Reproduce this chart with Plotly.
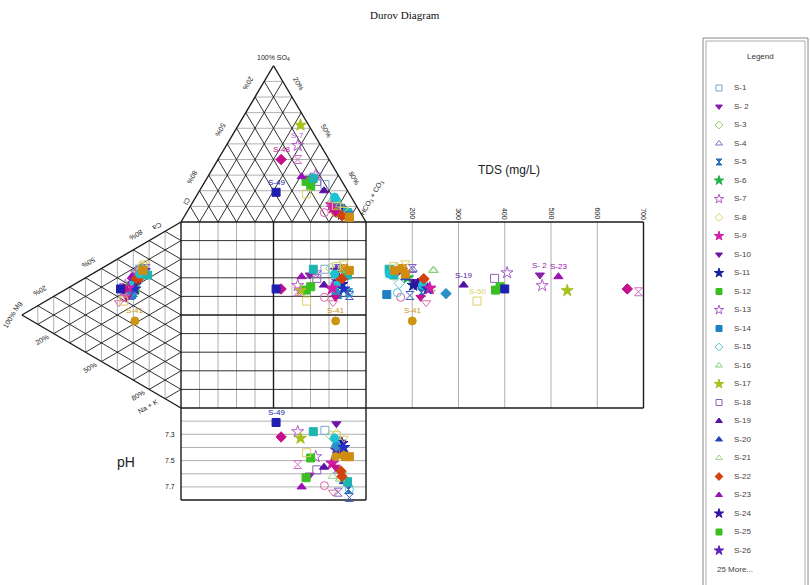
import plotly.graph_objects as go

# ---------------------------------------------------------------- data
SAMPLES = ["S-1", "S- 2", "S-3", "S-4", "S-5", "S-6", "S-7", "S-8", "S-9", "S-10",
           "S-11", "S-12", "S-13", "S-14", "S-15", "S-16", "S-17", "S-18", "S-19", "S-20",
           "S-21", "S-22", "S-23", "S-24", "S-25", "S-26", "S-27", "S-28", "S-29", "S-30",
           "S-31", "S-32", "S-33", "S-34", "S-35", "S-36", "S-37", "S-38", "S-39", "S-40",
           "S-41", "S-42", "S-43", "S-44", "S-45", "S-46", "S-47", "S-48", "S-49", "S-50",
           "S-51"]

# anions, % meq (Cl = remainder)
SO4 = [24, 28, 12, 10, 5, 10, 49, 9, 11, 12,
       7, 26, 30, 8, 15, 5, 62, 26, 20, 9,
       14, 6, 29, 5, 23, 9, 5, 28, 14, 6,
       9, 8, 4, 3, 6, 6, 6, 8, 4, 9,
       6, 11, 4, 10, 16, 6, 40, 40, 19, 18,
       3]
HCO3 = [65.8, 55.6, 75, 80, 88, 80, 38.6, 79.5, 76, 78,
        82.5, 54.6, 57.8, 80.5, 75.5, 84.5, 33.6, 60.4, 67.3, 83.5,
        75, 83.5, 50.7, 84.5, 58.6, 79.5, 85.5, 57.5, 77, 74.5,
        80.5, 78.2, 87, 89.5, 81, 85, 87, 84, 89, 77.5,
        80.6, 80.5, 85, 79, 75, 80.5, 43.1, 34.1, 41.9, 58.9,
        89.5]
# cations, % meq (Na + K = remainder)
MG = [26, 28, 24, 25, 30, 27, 35, 26, 32, 30,
      29, 29, 28, 31, 28, 30, 34, 29, 33, 27,
      26, 27, 31, 30, 32, 23, 24, 24, 31, 36,
      22, 39, 26, 33, 31, 29, 21, 23, 32, 33,
      29, 25, 28, 24, 26, 34, 35, 36, 38, 36,
      24]
CA = [61.6, 57.5, 63, 62, 47, 56.5, 48.3, 58, 48, 53,
      51.5, 48.9, 58.7, 45.5, 53, 49, 46.1, 55.2, 49.6, 56.5,
      61, 55.5, 55.1, 51.5, 49.2, 62.5, 63, 62.6, 50.5, 41.5,
      64, 37.1, 59, 45.5, 46, 49.5, 61, 66.5, 44.5, 48,
      32.3, 61.5, 55.5, 64, 59, 42.5, 45, 46, 45, 39.5,
      62]
TDS = [178, 476, 165, 201, 220, 190, 481, 160, 237, 205,
       202, 380, 405, 145, 172, 240, 535, 378, 311, 185,
       247, 224, 516, 212, 390, 177, 179, 150, 222, 175,
       200, 230, 185, 168, 273, 233, 160, 185, 195, 238,
       200, 245, 225, 160, 150, 218, 689, 665, 400, 340,
       162]
PH = [7.27, 7.61, 7.31, 7.58, 7.72, 7.45, 7.28, 7.30, 7.52, 7.22,
      7.36, 7.63, 7.47, 7.42, 7.33, 7.58, 7.33, 7.57, 7.55, 7.66,
      7.62, 7.58, 7.70, 7.37, 7.48, 7.42, 7.45, 7.28, 7.38, 7.69,
      7.74, 7.74, 7.47, 7.72, 7.39, 7.40, 7.66, 7.33, 7.78, 7.52,
      7.47, 7.64, 7.62, 7.31, 7.33, 7.55, 7.53, 7.32, 7.21, 7.44,
      7.47]

TDS_TICKS = [200, 300, 400, 500, 600, 700]
PH_TICKS = [7.3, 7.5, 7.7]
PH_LINES = [7.2, 7.3, 7.4, 7.5, 7.6, 7.7]
EDGE_TICKS = [20, 50, 80]
LEGEND_COUNT = 26

# ---------------------------------------------------------------- styles
SYMBOLS = ["square-open", "triangle-down", "diamond-open", "triangle-up-open", "hourglass",
           "star", "star-open", "diamond-open", "star", "triangle-down",
           "star", "square", "star-open", "square", "diamond-open",
           "triangle-up-open", "star", "square-open", "triangle-up", "triangle-up",
           "triangle-up-open", "diamond", "triangle-up", "star", "square",
           "star", "square", "square", "circle", "circle-open",
           "hourglass-open", "triangle-down-open", "square", "circle-open", "diamond",
           "star", "square", "triangle-down-open", "hourglass-open", "star",
           "circle", "triangle-up-open", "diamond", "square-open", "circle",
           "triangle-down", "hourglass-open", "diamond", "square", "square-open",
           "square"]
COLORS = ["#7fa3d0", "#8a1fa8", "#8fd46a", "#8070c4", "#2a6fb8",
          "#22b04a", "#b45cc8", "#dccf6a", "#d21ea6", "#7212a6",
          "#14209e", "#38c020", "#a55ccc", "#1f80c4", "#5cc6da",
          "#82d07c", "#a8c01c", "#9060b4", "#5612a4", "#2244b4",
          "#9ed48c", "#d2420e", "#9a12b4", "#3412a4", "#38c020",
          "#5a22b8", "#d08c10", "#1fb4b0", "#1cc2d4", "#d85ea4",
          "#8262c4", "#d870a6", "#d08c10", "#4ec2d6", "#2a90c6",
          "#2430c4", "#1fb4b0", "#dccf6a", "#4060c4", "#d21ea6",
          "#cc9614", "#7cd06a", "#d2420e", "#dccf6a", "#1cc2d4",
          "#c4108e", "#d46ec4", "#c4108a", "#2020b0", "#dccf6a",
          "#d08c10"]

# ---------------------------------------------------------------- geometry
H_TOP = 84.0      # height of the anion triangle (square side = 100)
W_LEFT = 86.0     # depth of the cation triangle
PH_MIN, PH_MAX, PH_DEPTH = 7.1, 7.8, 49.5
TDS_MIN, TDS_MAX, TDS_WIDTH = 100, 700, 150

GRAY = "#b0b0b0"
BLACK = "#1a1a1a"
FONT = "Liberation Sans"


def top_pt(so4, hco3):
    return hco3 + so4 / 2.0, 100 + H_TOP * so4 / 100.0


def left_pt(mg, ca):
    return -W_LEFT * mg / 100.0, ca + mg / 2.0


def tds_x(t):
    return 100 + (t - TDS_MIN) / (TDS_MAX - TDS_MIN) * TDS_WIDTH


def ph_y(p):
    return -(p - PH_MIN) / (PH_MAX - PH_MIN) * PH_DEPTH


def marker_size(sym, base):
    return base + 1 if "star" in sym else base


fig = go.Figure()

grid = {"gray": ([], []), "black": ([], []), "frame": ([], [])}


def seg(kind, a, b):
    xs, ys = grid[kind]
    xs += [a[0], b[0], None]
    ys += [a[1], b[1], None]


for k in range(1, 10):
    f = 10 * k
    # anion triangle
    seg("gray", top_pt(f, 0), top_pt(f, 100 - f))
    seg("black", top_pt(0, f), top_pt(100 - f, f))
    seg("black", top_pt(0, 100 - f), top_pt(100 - f, 0))
    # cation triangle
    seg("gray", left_pt(f, 0), left_pt(f, 100 - f))
    seg("black", left_pt(0, f), left_pt(100 - f, f))
    seg("black", left_pt(0, 100 - f), left_pt(100 - f, 0))
    # central square
    if f != 50:
        seg("gray", (f, 0), (f, 100))
        seg("black", (0, f), (100, f))

seg("frame", (50, 0), (50, 100))
seg("frame", (0, 50), (100, 50))

for t in TDS_TICKS[:-1]:
    seg("gray", (tds_x(t), 0), (tds_x(t), 100))
for p in PH_LINES:
    seg("gray", (0, ph_y(p)), (100, ph_y(p)))

# outlines
cl_c, hc_c, so_c = top_pt(0, 0), top_pt(0, 100), top_pt(100, 0)
ca_c, na_c, mg_c = left_pt(0, 100), left_pt(0, 0), left_pt(100, 0)
for a, b in [(cl_c, so_c), (so_c, hc_c), (ca_c, mg_c), (mg_c, na_c),
             ((0, 0), (0, 100)), ((0, 100), (tds_x(TDS_MAX), 100)),
             ((tds_x(TDS_MAX), 100), (tds_x(TDS_MAX), 0)), ((tds_x(TDS_MAX), 0), (0, 0)),
             ((100, 0), (100, 100)),
             ((0, 0), (0, ph_y(PH_MAX))), ((0, ph_y(PH_MAX)), (100, ph_y(PH_MAX))),
             ((100, ph_y(PH_MAX)), (100, 0))]:
    seg("frame", a, b)

for kind, color, width in [("gray", GRAY, 1), ("black", BLACK, 0.9), ("frame", BLACK, 1.4)]:
    xs, ys = grid[kind]
    fig.add_trace(go.Scatter(x=xs, y=ys, mode="lines", line=dict(color=color, width=width),
                             hoverinfo="skip"))

# ---------------------------------------------------------------- samples
pts = {}
for i, name in enumerate(SAMPLES):
    tx, ty = top_pt(SO4[i], HCO3[i])
    lx, ly = left_pt(MG[i], CA[i])
    xs = [tx, lx, tx, tds_x(TDS[i]), tx]
    ys = [ty, ly, ly, ly, ph_y(PH[i])]
    pts[name] = (xs, ys)
    fig.add_trace(go.Scatter(
        x=xs, y=ys, mode="markers", name=name,
        marker=dict(symbol=SYMBOLS[i], size=marker_size(SYMBOLS[i], 8), color=COLORS[i],
                    opacity=1, line=dict(color=COLORS[i], width=1)),
    ))

# ---------------------------------------------------------------- legend panel
n_leg = LEGEND_COUNT
fig.add_trace(go.Scatter(
    x=[16] * n_leg, y=list(range(n_leg)), mode="markers", xaxis="x2", yaxis="y2",
    marker=dict(symbol=SYMBOLS[:n_leg], color=COLORS[:n_leg], opacity=1,
                size=[marker_size(s, 6) for s in SYMBOLS[:n_leg]],
                line=dict(color=COLORS[:n_leg], width=1)),
    hoverinfo="skip"))
fig.add_trace(go.Scatter(
    x=[31] * n_leg, y=list(range(n_leg)), mode="text", xaxis="x2", yaxis="y2",
    text=SAMPLES[:n_leg], textposition="middle right",
    textfont=dict(size=8, color="#444", family=FONT), hoverinfo="skip"))

# point labels: (sample, panel index)
LABELS = [("S-7", 0), ("S-48", 0), ("S-49", 0), ("S-41", 1), ("S-41", 2),
          ("S-41", 3), ("S-19", 3), ("S-50", 3), ("S- 2", 3), ("S-23", 3), ("S-49", 4)]
annotations = []
for name, panel in LABELS:
    xs, ys = pts[name]
    annotations.append(dict(x=xs[panel], y=ys[panel], text=name, showarrow=False,
                            yshift=10, font=dict(size=8, color=COLORS[SAMPLES.index(name)],
                                                 family=FONT)))


# ---------------------------------------------------------------- axis text
def note(x, y, text, size=7, angle=0, **kw):
    d = dict(x=x, y=y, text=text, showarrow=False, textangle=angle,
             font=dict(size=size, color="#222", family=FONT))
    d.update(kw)
    annotations.append(d)


note(so_c[0], so_c[1] + 4, "100% SO<sub>4</sub>", size=7)
for v in EDGE_TICKS:
    x, y = top_pt(100 - v, 0)
    note(x - 3.7, y + 7.3, f"{v}%", angle=120)
    x, y = top_pt(100 - v, v)
    note(x + 3.3, y + 7.0, f"{v}%", angle=60)
    x, y = left_pt(100 - v, v)
    note(x - 7.1, y + 2.9, f"{v}%", angle=150)
    x, y = left_pt(100 - v, 0)
    note(x - 6.2, y - 3.2, f"{v}%", angle=-30)
note(cl_c[0] + 3, cl_c[1] + 11, "Cl", angle=120)
note(hc_c[0] + 3, hc_c[1] + 13, "HCO<sub>3</sub> + CO<sub>3</sub>", angle=-60)
note(ca_c[0] - 13, ca_c[1] - 2.7, "Ca", angle=150)
note(na_c[0] - 18, na_c[1] + 1, "Na + K", angle=-30)
note(mg_c[0] - 5, mg_c[1], "100% Mg", angle=-60)

for t in TDS_TICKS:
    note(tds_x(t), 104.5, str(t), angle=90)
note(tds_x(410), 128, "TDS (mg/L)", size=12)
for p in PH_TICKS:
    note(-2, ph_y(p), f"{p:.1f}", xanchor="right")
note(-30, ph_y(7.51), "pH", size=14)

annotations.append(dict(x=0.5, y=1 - 15 / 585, xref="paper", yref="paper", yanchor="middle",
                        text="Durov Diagram", showarrow=False,
                        font=dict(size=11, color="#111", family="Liberation Serif")))
annotations.append(dict(x=57, y=-1.68, xref="x2", yref="y2", text="Legend", showarrow=False,
                        font=dict(size=8, color="#333", family=FONT)))
annotations.append(dict(x=12, y=n_leg, xref="x2", yref="y2", xanchor="left",
                        text=f"{len(SAMPLES) - n_leg} More...", showarrow=False,
                        font=dict(size=8, color="#444", family=FONT)))

shapes = [
    dict(type="rect", xref="paper", yref="paper", x0=703 / 810, x1=808 / 810,
         y0=-0.05, y1=1 - 38 / 585, line=dict(color="#888", width=1)),
    dict(type="rect", xref="paper", yref="paper", x0=706 / 810, x1=805 / 810,
         y0=-0.05, y1=1 - 41 / 585, line=dict(color="#aaa", width=1)),
]

ROW = 18.5       # legend row pitch, px
FIRST = 88       # first legend row, px from top
fig.update_layout(
    width=810, height=585,
    margin=dict(l=0, r=0, t=0, b=0),
    paper_bgcolor="white", plot_bgcolor="rgba(0,0,0,0)",
    showlegend=False,
    xaxis=dict(range=[-181 / 1.85, (810 - 181) / 1.85], visible=False, fixedrange=True),
    yaxis=dict(range=[(408 - 585) / 1.86, 408 / 1.86], visible=False, fixedrange=True),
    xaxis2=dict(domain=[703 / 810, 808 / 810], range=[0, 105], anchor="y2",
                visible=False, fixedrange=True),
    yaxis2=dict(domain=[0, 1], range=[(585 - FIRST) / ROW, -FIRST / ROW], anchor="x2",
                visible=False, fixedrange=True),
    annotations=annotations,
    shapes=shapes,
)

fig.write_html("out.html")
